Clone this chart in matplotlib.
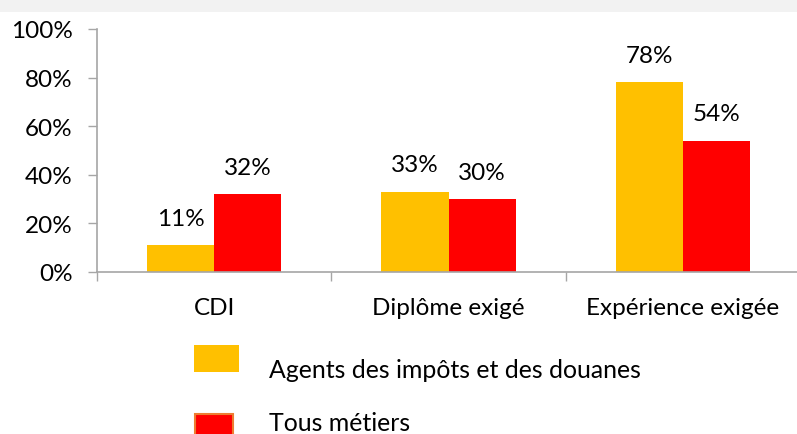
import matplotlib
matplotlib.use("Agg")
import matplotlib.pyplot as plt
from matplotlib.patches import Rectangle
import numpy as np

categories = ["CDI", "Diplôme exigé", "Expérience exigée"]
series_names = ["Agents des impôts et des douanes", "Tous métiers"]
agents = [11, 33, 78]
tous = [32, 30, 54]
y_ticks = [0, 20, 40, 60, 80, 100]
y_tick_labels = ["0%", "20%", "40%", "60%", "80%", "100%"]

YELLOW = "#FFC000"
RED = "#FF0000"
AXCOL = "#A6A6A6"
FONT = "Lato"
FS = 17.5

W, H = 797, 435
fig = plt.figure(figsize=(W / 100, H / 100), dpi=100)
fig.patch.set_facecolor("white")
fig.add_artist(Rectangle((0, 1 - 13 / H), 1, 13 / H, transform=fig.transFigure,
                         facecolor="#F2F2F2", edgecolor="none", zorder=0))

ax = fig.add_axes([97 / W, (H - 273) / H, (800 - 97) / W, (273 - 30) / H])
x = np.arange(len(categories))
bw = 0.286
b1 = ax.bar(x - bw / 2, agents, bw, color=YELLOW, zorder=2)
b2 = ax.bar(x + bw / 2, tous, bw, color=RED, zorder=2)

for bars, vals in ((b1, agents), (b2, tous)):
    for r, v in zip(bars, vals):
        ax.annotate(f"{v}%", (r.get_x() + r.get_width() / 2, v), xytext=(0, 19.5),
                    textcoords="offset points", ha="center", va="center",
                    fontsize=FS, family=FONT, color="#000000")

ax.set_xlim(-0.5, 2.5)
ax.set_ylim(0, 100)
ax.set_yticks(y_ticks)
ax.set_yticklabels(y_tick_labels, family=FONT, fontsize=FS)
ax.tick_params(axis="y", direction="out", length=6.5, width=1, color=AXCOL, pad=11)
ax.set_xticks(x)
ax.set_xticklabels(categories, family=FONT, fontsize=FS)
ax.tick_params(axis="x", which="major", length=0, pad=18)
ax.set_xticks([-0.5, 0.5, 1.5, 2.5], minor=True)
ax.tick_params(axis="x", which="minor", direction="out", length=6.5, width=1, color=AXCOL)
for s in ("top", "right"):
    ax.spines[s].set_visible(False)
for s in ("left", "bottom"):
    ax.spines[s].set_color(AXCOL)
    ax.spines[s].set_linewidth(1.2)
ax.set_facecolor("none")

# legend drawn manually
fig.add_artist(Rectangle((194 / W, 1 - 373 / H), 45 / W, 27 / H, transform=fig.transFigure,
                         facecolor=YELLOW, edgecolor="none"))
fig.add_artist(Rectangle((195 / W, 1 - 442 / H), 38 / W, 27 / H, transform=fig.transFigure,
                         facecolor=RED, edgecolor="#ED7D31", linewidth=1.5))
fig.text(269 / W, 1 - 371 / H, series_names[0], ha="left", va="center",
         fontsize=17.9, family=FONT)
fig.text(269 / W, 1 - 424 / H, series_names[1], ha="left", va="center",
         fontsize=17.9, family=FONT)

fig.savefig("out.png", dpi=100)
